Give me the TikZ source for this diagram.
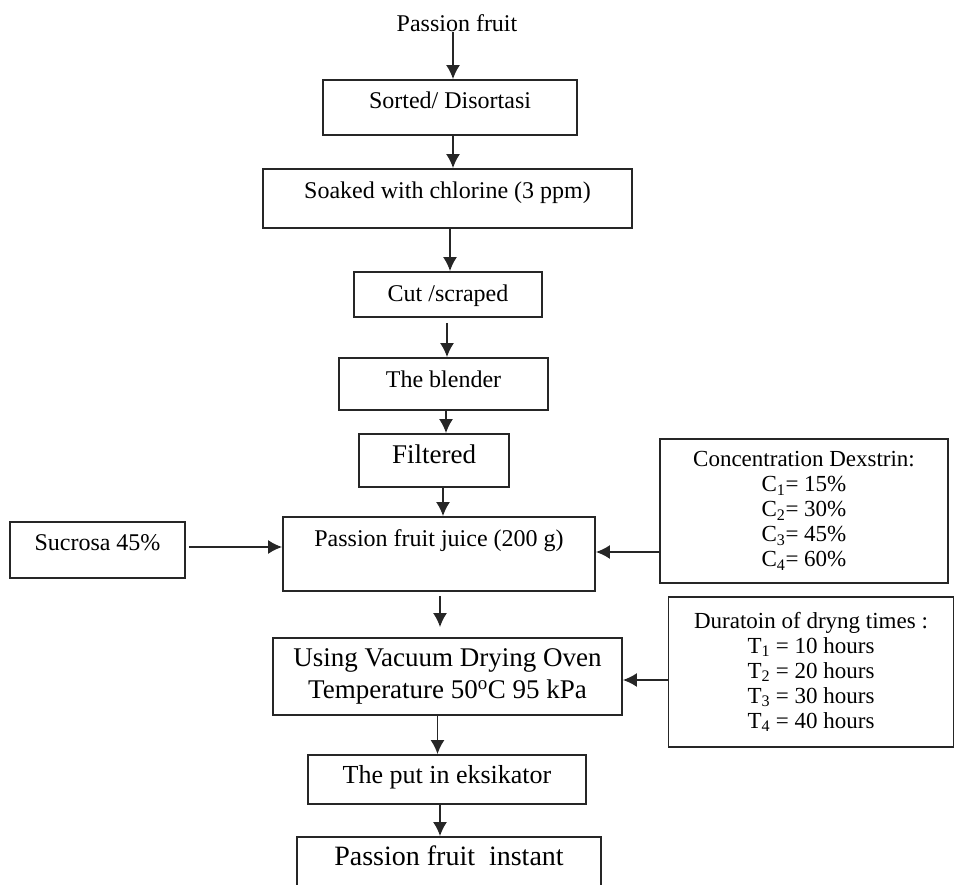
\documentclass[tikz,border=0pt]{standalone}
\usepackage{fontspec}
\setmainfont{Liberation Serif}
\usetikzlibrary{arrows.meta}
\begin{document}
\begin{tikzpicture}[x=1pt,y=-1pt,
  box/.style={draw=black!85, line width=1.8pt, inner xsep=0pt, inner ysep=0pt, anchor=base},
  mbox/.style={draw=black!85, line width=1.8pt, inner sep=0pt, align=center},
  arr/.style={draw=black!85, line width=1.8pt, -{Latex[length=14pt,width=14pt]}},
  f23/.style={font=\fontsize{23}{25}\selectfont},
  f24/.style={font=\fontsize{24}{28}\selectfont},
  f26/.style={font=\fontsize{26}{30}\selectfont},
  f27/.style={font=\fontsize{27}{32}\selectfont},
  f28/.style={font=\fontsize{28}{32}\selectfont}]
\useasboundingbox (0,0) rectangle (955,885);

\node[f24, anchor=base, inner sep=0pt] (pf) at (457,32) {Passion fruit};
\node[box,f24,minimum width=254pt,text height=29pt,text depth=26pt] (sort) at (450,109) {Sorted/ Disortasi};
\node[box,f24,minimum width=369pt,text height=30pt,text depth=29pt] (soak) at (447.5,199) {Soaked with chlorine (3 ppm)};
\node[box,f24,minimum width=188pt,text height=29pt,text depth=16pt] (cut) at (448,301) {Cut /scraped};
\node[box,f24,minimum width=209pt,text height=29pt,text depth=23pt] (blend) at (443.5,387) {The blender};
\node[box,f27,minimum width=150pt,text height=29pt,text depth=24pt] (filt) at (434,463) {Filtered};
\node[box,f24,minimum width=312pt,text height=29pt,text depth=45pt] (juice) at (439,546) {Passion fruit juice (200 g)};
\node[box,f24,minimum width=175pt,text height=28pt,text depth=28pt] (suc) at (97.5,550) {Sucrosa 45\%};
\node[mbox,f23,minimum width=288pt,minimum height=144pt] (conc) at (804,511)
  {Concentration Dexstrin:\\C\textsubscript{1}= 15\%\\C\textsubscript{2}= 30\%\\C\textsubscript{3}= 45\%\\C\textsubscript{4}= 60\%};
\node[mbox,f27,minimum width=349pt,minimum height=77pt] (using) at (447.5,676.5)
  {Using Vacuum Drying Oven\\Temperature 50\textsuperscript{o}C 95 kPa};
\node[mbox,f23,minimum width=285pt,minimum height=150pt] (dur) at (811,672)
  {Duratoin of dryng times :\\T\textsubscript{1} = 10 hours\\T\textsubscript{2} = 20 hours\\T\textsubscript{3} = 30 hours\\T\textsubscript{4} = 40 hours};
\node[box,f26,minimum width=278pt,text height=28pt,text depth=21pt] (put) at (447,783) {The put in eksikator};
\node[box,f28,minimum width=304pt,text height=28pt,text depth=40pt] (final) at (449,865) {Passion fruit\ \ instant};

\draw[arr] ([xshift=-4pt]pf.south) -- ([xshift=-4pt]pf.south |- sort.north);
\draw[arr] ([xshift=3pt]sort.south) -- ([xshift=3pt]sort.south |- soak.north);
\draw[arr] ([xshift=2.5pt]soak.south) -- ([xshift=2.5pt]soak.south |- cut.north);
\draw[arr, shorten <=5pt] ([xshift=-1pt]cut.south) -- ([xshift=-1pt]cut.south |- blend.north);
\draw[arr] ([xshift=2.5pt]blend.south) -- ([xshift=2.5pt]blend.south |- filt.north);
\draw[arr] ([xshift=9pt]filt.south) -- ([xshift=9pt]filt.south |- juice.north);
\draw[arr, shorten <=4pt, shorten >=10pt] ([xshift=1pt]juice.south) -- ([xshift=1pt]juice.south |- using.north);
\draw[arr] ([xshift=-10pt]using.south) -- ([xshift=-10pt]using.south |- put.north);
\draw[arr] ([xshift=-7pt]put.south) -- ([xshift=-7pt]put.south |- final.north);
\draw[arr, shorten <=3pt] ([yshift=3pt]suc.east) -- ([yshift=3pt]suc.east -| juice.west);
\draw[arr] ([yshift=-41pt]conc.west) -- ([yshift=-41pt]conc.west -| juice.east);
\draw[arr] ([yshift=-8pt]dur.west) -- ([yshift=-8pt]dur.west -| using.east);
\end{tikzpicture}
\end{document}
